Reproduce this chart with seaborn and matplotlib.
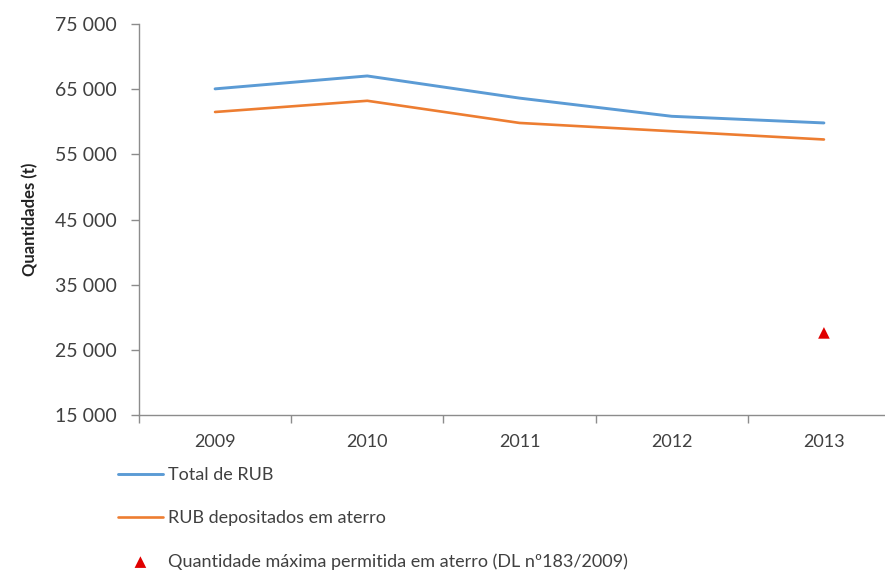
import matplotlib
matplotlib.use("Agg")
import matplotlib.pyplot as plt
import matplotlib.ticker as mticker
import seaborn as sns
import pandas as pd

anos = [2009, 2010, 2011, 2012, 2013]
total_rub = [65050, 67030, 63630, 60840, 59820]
rub_aterro = [61500, 63220, 59820, 58550, 57280]
ano_meta = [2013]
meta_aterro = [27600]

rotulos = ["Total de RUB", "RUB depositados em aterro",
           "Quantidade máxima permitida em aterro (DL nº183/2009)"]
y_ticks = [15000, 25000, 35000, 45000, 55000, 65000, 75000]

sns.set_theme(style="white")
plt.rcParams["font.family"] = ["Lato", "DejaVu Sans"]

texto = "#404040"
eixo = "#8c8c8c"

fig = plt.figure(figsize=(8.85, 5.72), dpi=100)
ax = fig.add_axes([0.157, 0.2745, 0.86, 0.6835])

df = pd.DataFrame({"ano": anos, "total": total_rub, "aterro": rub_aterro})
sns.lineplot(data=df, x="ano", y="total", color="#5B9BD5", linewidth=2.1,
             ax=ax, label=rotulos[0])
sns.lineplot(data=df, x="ano", y="aterro", color="#ED7D31", linewidth=1.9,
             ax=ax, label=rotulos[1])
sns.scatterplot(x=ano_meta, y=meta_aterro, marker="^", color="#E00000",
                s=70, edgecolor="none", ax=ax, label=rotulos[2])

ax.set_xlim(2008.5, 2013.5)
ax.set_ylim(15000, 75000)
ax.set_yticks(y_ticks)
ax.yaxis.set_major_formatter(mticker.FuncFormatter(
    lambda v, p: f"{int(v):,}".replace(",", " ")))
ax.set_xticks(anos)
ax.set_xticks([a - 0.5 for a in anos], minor=True)
ax.tick_params(axis="x", which="major", length=0, pad=14,
               labelsize=13, labelcolor=texto)
ax.tick_params(axis="x", which="minor", length=6, width=1, color=eixo,
               direction="out", bottom=True)
ax.tick_params(axis="y", length=6, width=1, color=eixo, direction="out",
               left=True, pad=10, labelsize=14, labelcolor=texto)

for lado in ["top", "right"]:
    ax.spines[lado].set_visible(False)
for lado in ["left", "bottom"]:
    ax.spines[lado].set_color(eixo)
    ax.spines[lado].set_linewidth(1)

ax.set_xlabel("")
ax.set_ylabel("Quantidades (t)", fontsize=12, fontweight="bold",
              color="#222222", labelpad=12)

handles, labels = ax.get_legend_handles_labels()
ax.get_legend().remove()
fig.legend(handles, labels, loc="upper left",
           bbox_to_anchor=(0.125, 0.196), frameon=False, fontsize=13,
           handlelength=2.5, handletextpad=0.3, labelspacing=1.5,
           borderaxespad=0, labelcolor=texto)

fig.savefig("out.png", dpi=100)
